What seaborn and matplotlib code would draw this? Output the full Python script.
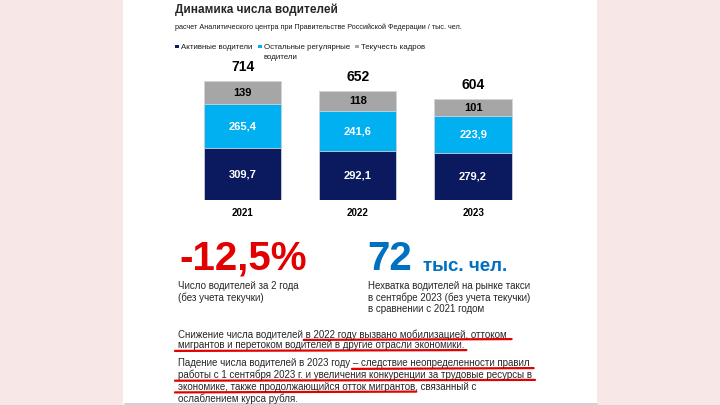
import numpy as np
import pandas as pd
import matplotlib
matplotlib.use("Agg")
import matplotlib.pyplot as plt
from matplotlib.patches import Rectangle
from matplotlib.lines import Line2D
import seaborn as sns

# ---------------- data ----------------
years = ["2021", "2022", "2023"]
active = [309.7, 292.1, 279.2]
regular = [265.4, 241.6, 223.9]
turnover = [139, 118, 101]
totals = [714, 652, 604]
active_lbl = ["309,7", "292,1", "279,2"]
regular_lbl = ["265,4", "241,6", "223,9"]
turnover_lbl = ["139", "118", "101"]
series_names = ["Активные водители", "Остальные регулярные\nводители", "Текучесть кадров"]

title = "Динамика числа водителей"
subtitle = "расчет Аналитического центра при Правительстве Российской Федерации / тыс. чел."

# ---------------- style ----------------
sns.set_theme(style="white")
plt.rcParams["font.family"] = ["Liberation Sans", "DejaVu Sans"]

C_DARK = "#0b1a5e"
C_LIGHT = "#00b0f0"
C_GREY = "#a6a6a6"
C_RED = "#e30000"
C_BLUE = "#0070c0"
PINK = "#f8e7e7"

W, H = 720, 405
fig = plt.figure(figsize=(W / 100, H / 100), dpi=100, facecolor=PINK)


def fx(x):
    return x / W


def fy(y):
    return 1 - y / H


# white panel
fig.patches.append(Rectangle((fx(123), 0), fx(597) - fx(123), 1, transform=fig.transFigure,
                             facecolor="white", edgecolor="none", zorder=-5))
fig.lines.append(Line2D([fx(125), fx(597)], [fy(404.3), fy(404.3)], transform=fig.transFigure,
                        color="#c8c8c8", lw=1.2, zorder=1))

# ---------------- bars ----------------
step = 115.3
left = 242.5 - step / 2
ax = fig.add_axes([fx(left), fy(200), 3 * step / W, (800 * 0.1667) / H])
ax.set_facecolor("none")
ax.set_zorder(2)

df = pd.DataFrame({"year": years, "active": active, "regular": regular, "turnover": turnover})
df["cum2"] = df["active"] + df["regular"]
df["cum3"] = df["cum2"] + df["turnover"]

bar_kw = dict(width=0.67, edgecolor="#d0d4dc", linewidth=0.6, saturation=1, ax=ax)
sns.barplot(data=df, x="year", y="cum3", color=C_GREY, **bar_kw)
sns.barplot(data=df, x="year", y="cum2", color=C_LIGHT, **bar_kw)
sns.barplot(data=df, x="year", y="active", color=C_DARK, **bar_kw)

ax.set_xlim(-0.5, 2.5)
ax.set_ylim(0, 800)
ax.set_xlabel("")
ax.set_ylabel("")
ax.set_yticks([])
for s in ax.spines.values():
    s.set_visible(False)
ax.tick_params(axis="x", length=0, pad=6)
for lbl in ax.get_xticklabels():
    lbl.set_fontweight("bold")
    lbl.set_fontsize(7)
    lbl.set_color("black")

for i in range(len(years)):
    ax.text(i, active[i] / 2, active_lbl[i], ha="center", va="center", color="white",
            fontsize=8, fontweight="bold")
    ax.text(i, active[i] + regular[i] / 2, regular_lbl[i], ha="center", va="center",
            color="white", fontsize=8, fontweight="bold")
    ax.text(i, active[i] + regular[i] + turnover[i] / 2, turnover_lbl[i], ha="center",
            va="center", color="black", fontsize=8, fontweight="bold")
    ax.annotate(str(totals[i]), (i, df["cum3"][i]), xytext=(0, 5), textcoords="offset points",
                ha="center", va="bottom", fontsize=10, fontweight="bold", color="black")

# ---------------- header ----------------
fig.text(fx(175), fy(9.5), title, fontsize=8.5, fontweight="bold", va="center", ha="left")
fig.text(fx(175), fy(27), subtitle, fontsize=5.2, va="center", ha="left", color="#1a1a1a")

leg = [(177, 47, C_DARK, series_names[0]),
       (260, 47, C_LIGHT, series_names[1]),
       (357, 47, C_GREY, series_names[2])]
for x, y, c, name in leg:
    fig.patches.append(Rectangle((fx(x - 1.6), fy(y + 1.0)), 3.2 / W, 3.2 / H,
                                 transform=fig.transFigure, facecolor=c, edgecolor="none"))
    for k, part in enumerate(name.split("\n")):
        fig.text(fx(x + 4), fy(y + 2 + 10 * k), part, fontsize=5.7, va="baseline", ha="left",
                 color="#1a1a1a")

# ---------------- big numbers ----------------
fig.text(fx(179), fy(270), "-12,5%", fontsize=29, fontweight="bold", color=C_RED,
         va="baseline", ha="left")
fig.text(fx(367), fy(270), "72", fontsize=29, fontweight="bold", color=C_BLUE,
         va="baseline", ha="left")
fig.text(fx(423), fy(271), "тыс. чел.", fontsize=13.5, fontweight="bold", color=C_BLUE,
         va="baseline", ha="left")

cap_l = ["Число водителей за 2 года", "(без учета текучки)"]
cap_r = ["Нехватка водителей на рынке такси", "в сентябре 2023 (без учета текучки)",
         "в сравнении с 2021 годом"]
for k, s in enumerate(cap_l):
    fig.text(fx(178), fy(289 + 11.6 * k), s, fontsize=7, va="baseline", ha="left")
for k, s in enumerate(cap_r):
    fig.text(fx(368), fy(289 + 11.6 * k), s, fontsize=7, va="baseline", ha="left")

# ---------------- paragraphs with underlines ----------------
para_lines = [
    ("Снижение числа водителей в 2022 году вызвано мобилизацией, оттоком", 337.5,
     "Снижение числа водителей ", "в 2022 году вызвано мобилизацией, оттоком", (-2, 5)),
    ("мигрантов и перетоком водителей в другие отрасли экономики.", 348.5,
     "", "мигрантов и перетоком водителей в другие отрасли экономики.", (-3, 2)),
    ("Падение числа водителей в 2023 году – следствие неопределенности правил", 366.5,
     "Падение числа водителей в 2023 году ", "– следствие неопределенности правил", (-1, 4)),
    ("работы с 1 сентября 2023 г. и увеличения конкуренции за трудовые ресурсы в", 378.3,
     "", "работы с 1 сентября 2023 г. и увеличения конкуренции за трудовые ресурсы в", (-3, 3)),
    ("экономике, также продолжающийся отток мигрантов, связанный с", 390,
     "", "экономике, также продолжающийся отток мигрантов", (-3, 1)),
    ("ослаблением курса рубля.", 401.5, None, None, None),
]
PX0 = 178
FS = 7
fig.canvas.draw()
renderer = fig.canvas.get_renderer()


def text_w(s):
    t = fig.text(0, 0, s, fontsize=FS)
    w = t.get_window_extent(renderer).width
    t.remove()
    return w


for line, base, prefix, part, ext in para_lines:
    fig.text(fx(PX0), fy(base), line, fontsize=FS, va="baseline", ha="left")
    if part is None:
        continue
    x_end = PX0 + text_w(prefix + part)
    x_start = x_end - text_w(part)
    x0 = x_start + ext[0]
    x1 = x_end + ext[1]
    fig.lines.append(Line2D([fx(x0), fx(x1)], [fy(base + 2.4), fy(base + 1.6)],
                            transform=fig.transFigure, color=C_RED, lw=1.6,
                            solid_capstyle="round"))

fig.savefig("out.png", dpi=100, facecolor=PINK)
